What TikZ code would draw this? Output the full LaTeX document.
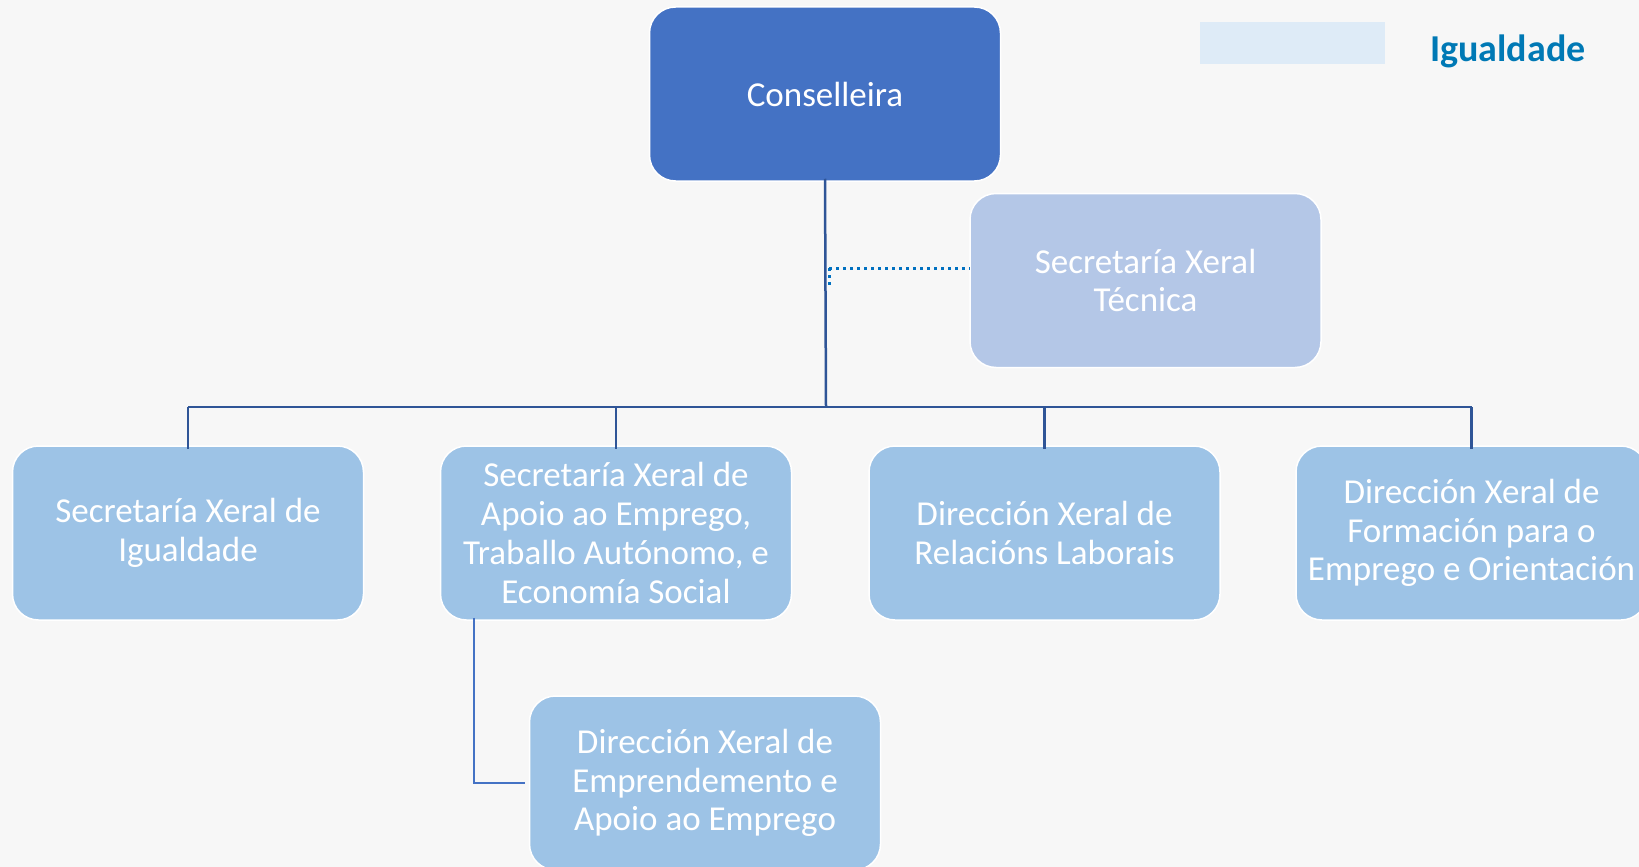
\documentclass[tikz,border=0pt]{standalone}
\usepackage{fontspec}
\setmainfont{Carlito}
\definecolor{bgc}{HTML}{F7F7F7}
\definecolor{topc}{HTML}{4472C4}
\definecolor{tecc}{HTML}{B4C7E7}
\definecolor{boxc}{HTML}{9DC3E6}
\definecolor{linec}{HTML}{2F5597}
\definecolor{subc}{HTML}{4472C4}
\definecolor{dotc}{HTML}{0070C0}
\definecolor{legc}{HTML}{DEEBF7}
\definecolor{legt}{HTML}{0079B5}
\tikzset{
  orgbox/.style={draw=white, line width=1.5pt, rounded corners=26pt, minimum width=351pt, minimum height=174pt,
    inner sep=0pt, align=center, text=white, font=\fontsize{35}{38.7}\selectfont},
  bus/.style={draw=linec, line width=2.5pt},
  subline/.style={draw=subc, line width=2.2pt},
  dotline/.style={draw=dotc, line width=3pt, dash pattern=on 3pt off 4pt}
}
\begin{document}
\begin{tikzpicture}[x=1pt,y=-1pt]
\useasboundingbox (0,0) rectangle (1639,867);
\fill[bgc] (0,0) rectangle (1639,867);
% legend
\fill[legc] (1200,22) rectangle (1385,64);
\node[anchor=base west, inner sep=0pt, text=legt, font=\bfseries\fontsize{38}{44}\selectfont] (leg) at (1430,62) {Igualdade};
% boxes
\node[orgbox, fill=topc] (cons) at (825,94) {Conselleira};
\node[orgbox, fill=tecc] (tec) at (1145.5,280.5) {Secretaría Xeral\\Técnica};
\node[orgbox, fill=boxc] (b1) at (188,533) {Secretaría Xeral de\\Igualdade};
\node[orgbox, fill=boxc] (b2) at (616,533) {Secretaría Xeral de\\Apoio ao Emprego,\\Traballo Autónomo, e\\Economía Social};
\node[orgbox, fill=boxc] (b3) at (1044.5,533) {Dirección Xeral de\\Relacións Laborais};
\node[orgbox, fill=boxc] (b4) at (1471.5,533) {Dirección Xeral de\\Formación para o\\Emprego e Orientación};
\node[orgbox, fill=boxc] (b5) at (705,783) {Dirección Xeral de\\Emprendemento e\\Apoio ao Emprego};
% connectors
\coordinate (hub) at (826,407);
\draw[bus] ([yshift=3pt]cons.south) -- (hub);
\draw[bus] (b1.north |- hub) -- (b4.north |- hub);
\foreach \b in {b1,b2,b3,b4}{
  \draw[bus] (\b.north |- hub) -- ([yshift=-4pt]\b.north);
}
\coordinate (subtop) at ([xshift=34pt,yshift=3pt]b2.south west);
\draw[subline] (subtop) |- ([xshift=-4pt]b5.west);
\coordinate (dotL) at (829,268);
\draw[dotline] (dotL) -- (dotL -| tec.west);
\draw[dotline] (dotL) -- (829,288);
\end{tikzpicture}
\end{document}
